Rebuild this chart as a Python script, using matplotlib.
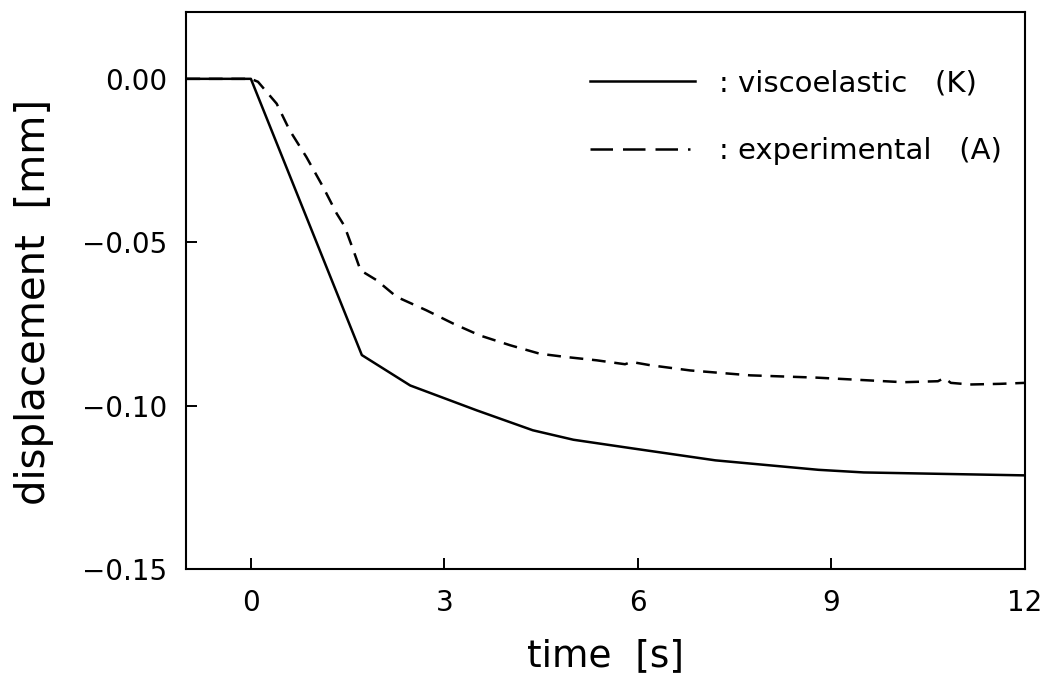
import numpy as np
import matplotlib
matplotlib.use("Agg")
import matplotlib.pyplot as plt
from matplotlib.lines import Line2D

# viscoelastic model (K)
time_visco = [-1.0, 0.0, 1.72, 2.47, 3.50, 4.37, 5.0, 5.9, 7.2, 8.8, 9.5, 10.6, 12.0]
disp_visco = [0.0, 0.0, -0.0845, -0.0938, -0.1014, -0.1075, -0.1104, -0.1130,
              -0.1167, -0.1196, -0.1204, -0.1208, -0.1213]

# experimental (A)
time_exp = [-1.0, 0.0, 0.11, 0.40, 0.60, 0.86, 1.12, 1.33, 1.45, 1.59, 1.70, 1.95,
            2.26, 2.72, 3.14, 3.55, 4.02, 4.48, 4.89, 5.36, 5.80, 5.90, 6.19, 6.81,
            7.74, 8.77, 9.54, 10.11, 10.65, 10.75, 10.85, 11.15, 11.61, 12.0]
disp_exp = [0.0, 0.0, -0.0009, -0.0076, -0.0157, -0.0239, -0.0331, -0.0412, -0.0450,
            -0.0525, -0.0586, -0.0616, -0.0667, -0.0708, -0.0749, -0.0785, -0.0815,
            -0.0841, -0.0851, -0.0861, -0.0873, -0.0866, -0.0876, -0.0892, -0.0907,
            -0.0914, -0.0922, -0.0928, -0.0925, -0.0915, -0.0930, -0.0935, -0.0933,
            -0.0930]

xticks = [0, 3, 6, 9, 12]
yticks = [0.0, -0.05, -0.10, -0.15]

plt.rcParams['font.family'] = ['DejaVu Sans']

fig = plt.figure(figsize=(10.47, 6.95), dpi=100)
ax = fig.add_axes([0.178, 0.181, 0.801, 0.802])

dash = (0, (5.5, 3.5))
ax.plot(time_visco, disp_visco, 'k-', lw=1.8)
ax.plot(time_exp, disp_exp, 'k', lw=1.8, linestyle=dash)

ax.set_xlim(-1, 12)
ax.set_ylim(-0.15, 0.0205)
ax.set_xticks(xticks)
ax.set_xticklabels([str(t) for t in xticks])
ax.set_yticks(yticks)
ax.set_yticklabels(['{:.2f}'.format(v).replace('-', '\u2212') for v in yticks])
ax.tick_params(direction='in', length=8, width=1.4, labelsize=20, pad=14,
               top=False, right=False)
for s in ax.spines.values():
    s.set_linewidth(1.5)

ax.set_xlabel('time  [s]', fontsize=27)
ax.set_ylabel('displacement  [mm]', fontsize=29)
ax.xaxis.set_label_coords(0.5, -0.124)
ax.yaxis.set_label_coords(-0.158, 0.48)

handles = [Line2D([], [], color='k', lw=1.8),
           Line2D([], [], color='k', lw=1.8, linestyle=(0, (9, 4, 9, 4, 9, 4, 1, 4)))]
labels = [': viscoelastic   (K)', ': experimental   (A)']
ax.legend(handles, labels, loc='upper left', bbox_to_anchor=(0.4815, 0.897),
          frameon=False, fontsize=21, handlelength=3.6, handletextpad=0.8,
          labelspacing=1.38, borderpad=0, borderaxespad=0)

fig.savefig('out.png', dpi=100)
